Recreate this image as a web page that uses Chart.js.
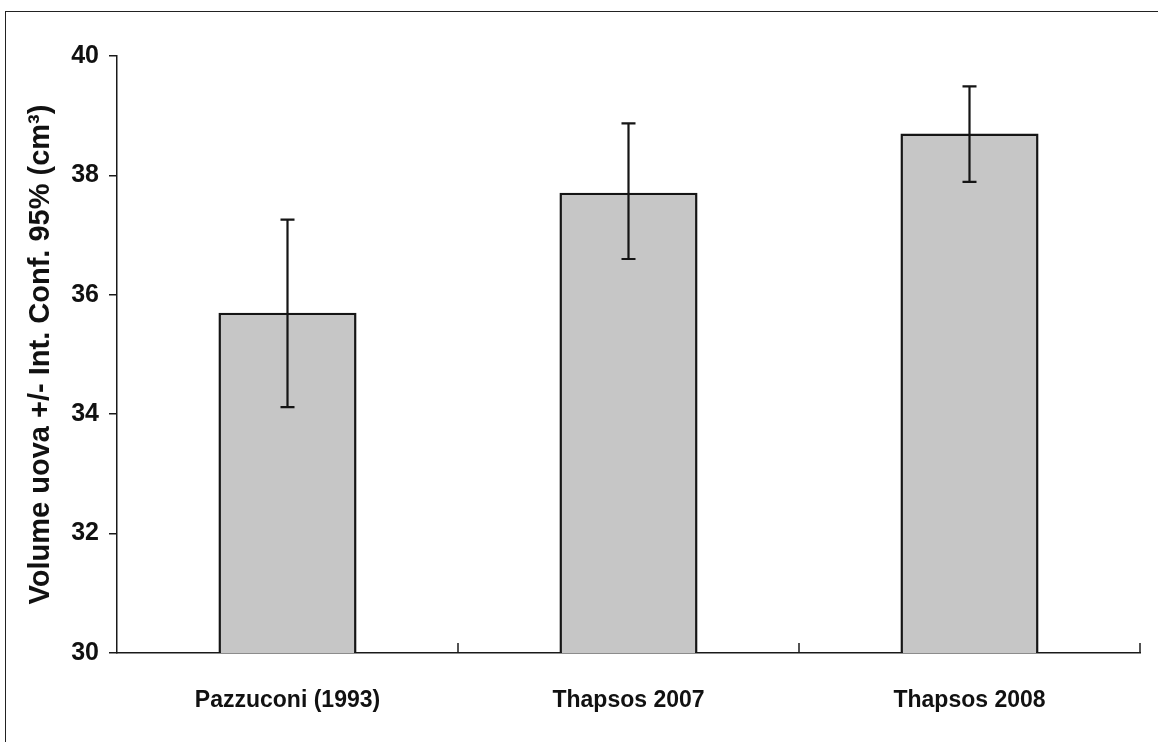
<!DOCTYPE html>
<html>
<head>
<meta charset="utf-8">
<script src="https://cdn.jsdelivr.net/npm/chart.js@4.4.0/dist/chart.umd.min.js"></script>
<style>
  html, body { margin: 0; padding: 0; background: #fff; overflow: hidden; }
  #wrap { position: relative; width: 1158px; height: 742px; }
  #frame { position: absolute; left: 5px; top: 11px; width: 1300px; height: 900px; border: 1.5px solid #222; box-sizing: border-box; }
  canvas { position: absolute; left: 0; top: 0; }
</style>
</head>
<body>
<div id="wrap">
  <div id="frame"></div>
  <canvas id="myChart" width="1158" height="742"></canvas>
</div>
<script>
// dati
const categorie = ['Pazzuconi (1993)', 'Thapsos 2007', 'Thapsos 2008'];
const medie = [35.70, 37.71, 38.70];
const limInf = [34.12, 36.60, 37.89];
const limSup = [37.26, 38.87, 39.49];
const yTicks = [30, 32, 34, 36, 38, 40];

// barre d'errore (int. conf. 95%)
const errorBars = {
    id: 'errorBars',
    afterDatasetsDraw(chart) {
        const ctx = chart.ctx;
        const y = chart.scales.y;
        const meta = chart.getDatasetMeta(0);
        ctx.save();
        ctx.strokeStyle = '#151515';
        ctx.lineWidth = 2.2;
        meta.data.forEach((bar, i) => {
            const x = bar.x;
            const top = y.getPixelForValue(limSup[i]);
            const bot = y.getPixelForValue(limInf[i]);
            ctx.beginPath();
            ctx.moveTo(x, top); ctx.lineTo(x, bot);
            ctx.moveTo(x - 7, top); ctx.lineTo(x + 7, top);
            ctx.moveTo(x - 7, bot); ctx.lineTo(x + 7, bot);
            ctx.stroke();
        });
        ctx.restore();
    }
};

// tacche tra le categorie (verso l'interno)
const catTicks = {
    id: 'catTicks',
    afterDraw(chart) {
        const ctx = chart.ctx;
        const xs = chart.scales.x;
        const area = chart.chartArea;
        ctx.save();
        ctx.strokeStyle = '#1a1a1a';
        ctx.lineWidth = 1.5;
        for (let i = 1; i <= categorie.length; i++) {
            let px = i < categorie.length
                ? (xs.getPixelForTick(i - 1) + xs.getPixelForTick(i)) / 2
                : area.right;
            ctx.beginPath();
            ctx.moveTo(px, area.bottom);
            ctx.lineTo(px, area.bottom - 10);
            ctx.stroke();
        }
        ctx.restore();
    }
};

const ctx = document.getElementById('myChart');
new Chart(ctx, {
    type: 'bar',
    data: {
        labels: categorie,
        datasets: [{
            data: medie,
            backgroundColor: '#c6c6c6',
            borderColor: '#151515',
            borderWidth: 2.5,
            categoryPercentage: 1,
            barPercentage: 0.405
        }]
    },
    options: {
        responsive: false,
        animation: false,
        layout: { padding: { top: 56, right: 18, left: 0, bottom: 0 } },
        plugins: { legend: { display: false }, tooltip: { enabled: false } },
        scales: {
            x: {
                grid: { display: false },
                border: { display: true, color: '#1a1a1a', width: 1.5 },
                ticks: {
                    color: '#111',
                    padding: 26,
                    font: { family: '"Liberation Sans", Arial, sans-serif', weight: 'bold', size: 23 }
                },
                afterFit: s => { s.height = 89; }
            },
            y: {
                min: 30,
                max: 40,
                afterBuildTicks: s => { s.ticks = yTicks.map(v => ({ value: v })); },
                grid: { drawOnChartArea: false, tickLength: 8, color: '#1a1a1a', lineWidth: 1.5 },
                border: { display: true, color: '#1a1a1a', width: 1.5 },
                ticks: {
                    color: '#111',
                    padding: 10,
                    font: { family: '"Liberation Sans", Arial, sans-serif', weight: 'bold', size: 25 }
                },
                title: {
                    display: true,
                    text: 'Volume uova +/- Int. Conf. 95% (cm³)',
                    color: '#111',
                    padding: { top: 24, bottom: 0 },
                    font: { family: '"Liberation Sans", Arial, sans-serif', weight: 'bold', size: 29 }
                },
                afterFit: s => { s.width = 117; }
            }
        }
    },
    plugins: [errorBars, catTicks]
});
</script>
</body>
</html>
